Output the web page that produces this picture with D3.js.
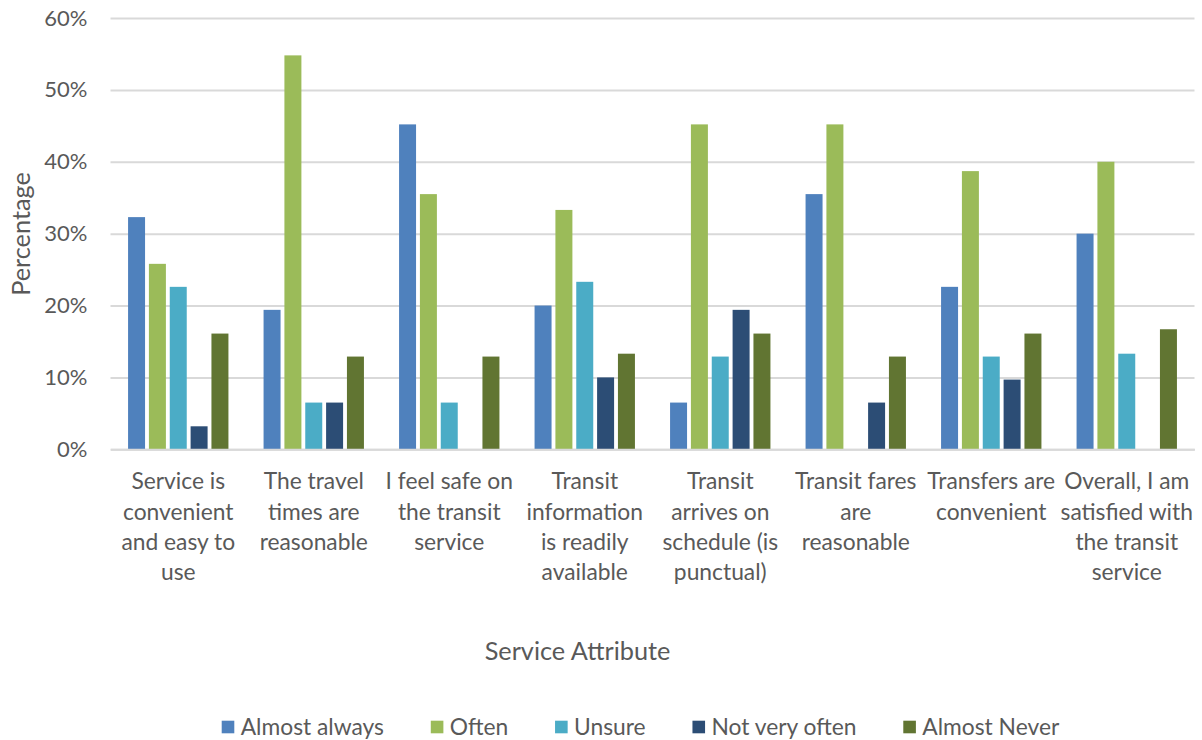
<!DOCTYPE html>
<html>
<head>
<meta charset="utf-8">
<script src="https://cdn.jsdelivr.net/npm/d3@7"></script>
<style>
  html, body { margin: 0; padding: 0; background: #ffffff; }
  svg { display: block; }
  text { font-family: Lato, "Noto Sans", sans-serif; fill: #595959; }
</style>
</head>
<body>
<svg id="chart" width="1202" height="740"></svg>
<script>
// ---- data ----
const categories = [
  "Service is convenient and easy to use",
  "The travel times are reasonable",
  "I feel safe on the transit service",
  "Transit information is readily available",
  "Transit arrives on schedule (is punctual)",
  "Transit fares are reasonable",
  "Transfers are convenient",
  "Overall, I am satisfied with the transit service"
];
const categoryLines = [
  ["Service is", "convenient", "and easy to", "use"],
  ["The travel", "times are", "reasonable"],
  ["I feel safe on", "the transit", "service"],
  ["Transit", "information", "is readily", "available"],
  ["Transit", "arrives on", "schedule (is", "punctual)"],
  ["Transit fares", "are", "reasonable"],
  ["Transfers are", "convenient"],
  ["Overall, I am", "satisfied with", "the transit", "service"]
];
const seriesNames = ["Almost always", "Often", "Unsure", "Not very often", "Almost Never"];
const almostAlways = [32.3, 19.4, 45.2, 20.0, 6.5, 35.5, 22.6, 30.0];
const often        = [25.8, 54.8, 35.5, 33.3, 45.2, 45.2, 38.7, 40.0];
const unsure       = [22.6, 6.5, 6.5, 23.3, 12.9, 0, 12.9, 13.3];
const notVeryOften = [3.2, 6.5, 0, 10.0, 19.4, 6.5, 9.7, 0];
const almostNever  = [16.1, 12.9, 12.9, 13.3, 16.1, 12.9, 16.1, 16.7];
const yTickValues = [0, 10, 20, 30, 40, 50, 60];
const xTitle = "Service Attribute";
const yTitle = "Percentage";

const seriesValues = [almostAlways, often, unsure, notVeryOften, almostNever];
const colors = ["#4f81bd", "#9bbb59", "#4bacc6", "#2c4d75", "#617532"];

// ---- layout ----
const svg = d3.select("#chart");
const mLeft = 110.5, mRight = 1194.5, mTop = 18, mBottom = 449.3;
const FONT = 22.8;

const x0 = d3.scaleBand().domain(categories).range([mLeft, mRight]).padding(0);
const groupW = x0.bandwidth() / 1.35;
const x1 = d3.scaleBand().domain(seriesNames)
  .range([(x0.bandwidth() - groupW) / 2, (x0.bandwidth() + groupW) / 2])
  .paddingInner(0.185).paddingOuter(0);
const y = d3.scaleLinear().domain([0, 60]).range([mBottom, mTop]);

// y axis + gridlines
const yAxis = svg.append("g")
  .attr("transform", `translate(${mLeft},0)`)
  .call(d3.axisLeft(y).tickValues(yTickValues).tickFormat(d => d + "%")
    .tickSize(-(mRight - mLeft)).tickPadding(23));
yAxis.select(".domain").remove();
yAxis.selectAll(".tick line").attr("stroke", "#d9d9d9").attr("stroke-width", 2);
yAxis.selectAll(".tick text").attr("font-size", 22).attr("fill", "#595959")
  .style("font-family", "Lato, sans-serif");

// bars
const groups = svg.append("g").selectAll("g")
  .data(categories)
  .join("g")
  .attr("transform", d => `translate(${x0(d)},0)`);

groups.selectAll("rect")
  .data((d, i) => seriesNames.map((s, k) => ({ s, v: seriesValues[k][i], k })))
  .join("rect")
  .attr("x", d => x1(d.s))
  .attr("width", x1.bandwidth())
  .attr("y", d => y(d.v))
  .attr("height", d => y(0) - y(d.v))
  .attr("fill", d => colors[d.k]);

// x axis (baseline + labels)
const xAxis = svg.append("g")
  .attr("transform", `translate(0,${mBottom})`)
  .call(d3.axisBottom(x0).tickSize(0).tickFormat(""));
xAxis.select(".domain").attr("stroke", "#d9d9d9").attr("stroke-width", 2);
xAxis.selectAll(".tick").each(function(d, i) {
  const t = d3.select(this).select("text")
    .attr("y", 0).attr("dy", null)
    .attr("font-size", FONT).attr("fill", "#595959")
    .style("font-family", "Lato, sans-serif");
  t.selectAll("tspan").data(categoryLines[i]).join("tspan")
    .attr("x", 0)
    .attr("y", (l, j) => 40 + j * 30.3)
    .text(l => l);
});

// axis titles
svg.append("text")
  .attr("x", (mLeft + mRight) / 2 - 75).attr("y", 660)
  .attr("text-anchor", "middle").attr("font-size", 25.3)
  .text(xTitle);
svg.append("text")
  .attr("transform", `translate(30,234) rotate(-90)`)
  .attr("text-anchor", "middle").attr("font-size", 25.3)
  .text(yTitle);

// legend
const legend = svg.append("g").attr("transform", "translate(0,727)");
let lx = 221.7;
seriesNames.forEach((s, k) => {
  const g = legend.append("g").attr("transform", `translate(${lx},0)`);
  g.append("rect").attr("x", 0).attr("y", -6.3).attr("width", 12.6).attr("height", 12.6)
    .attr("fill", colors[k]);
  const t = g.append("text").attr("x", 19).attr("y", 0).attr("dy", "0.35em")
    .attr("font-size", FONT).text(s);
  lx += 19 + t.node().getComputedTextLength() + 46.8;
});
</script>
</body>
</html>
